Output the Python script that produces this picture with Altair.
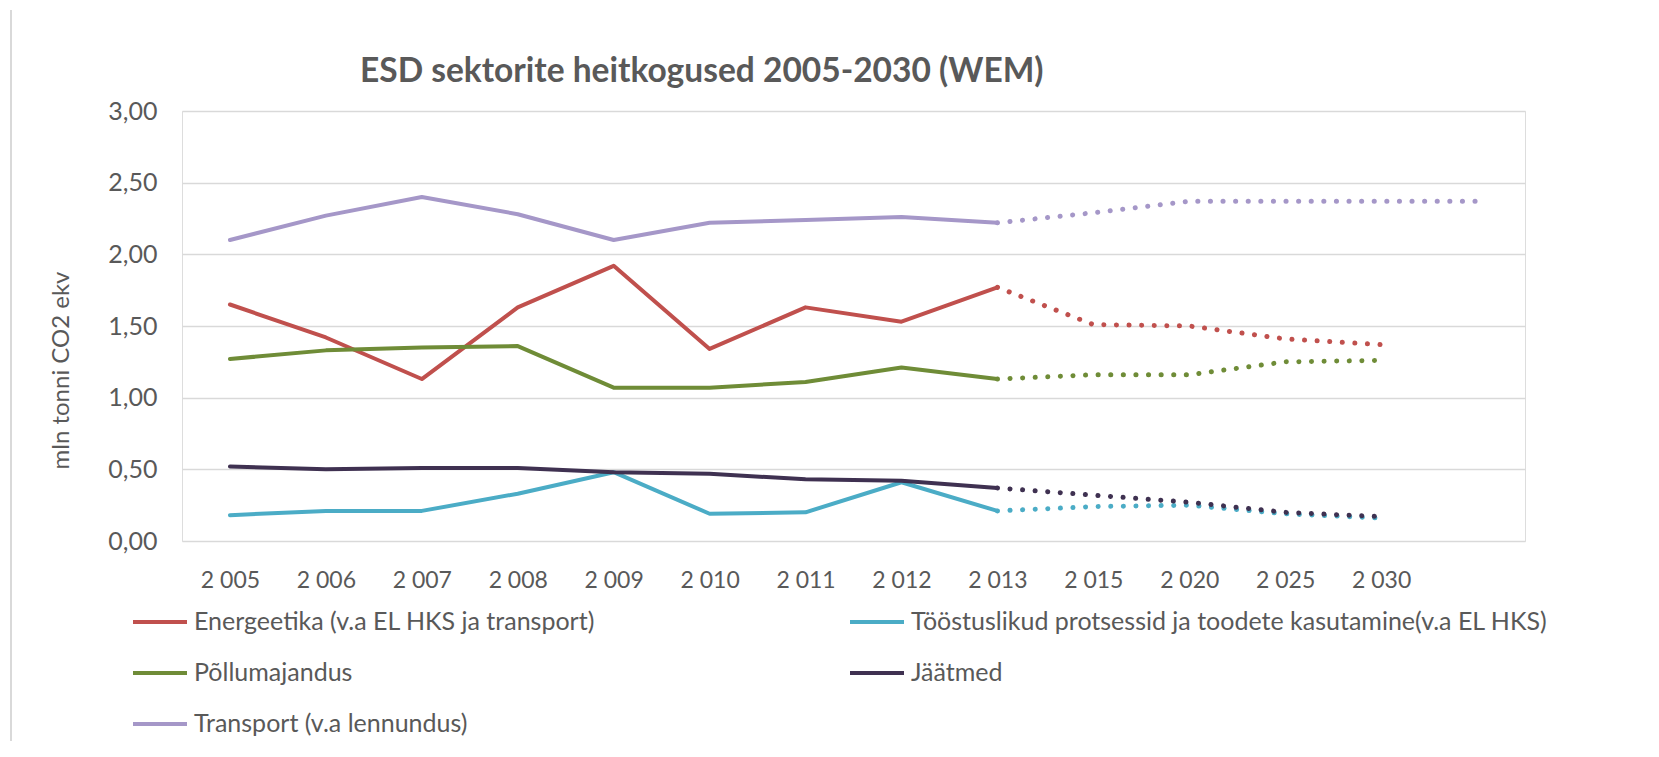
import altair as alt
import pandas as pd

# ---- data ----
categories = ["2 005", "2 006", "2 007", "2 008", "2 009", "2 010", "2 011",
              "2 012", "2 013", "2 015", "2 020", "2 025", "2 030", " "]

series_names = [
    "Energeetika (v.a EL HKS ja transport)",
    "Tööstuslikud protsessid ja toodete kasutamine(v.a EL HKS)",
    "Põllumajandus",
    "Jäätmed",
    "Transport (v.a lennundus)",
]
series_colors = ["#c0504d", "#4bacc6", "#6f8c37", "#3f3151", "#a597c8"]

energeetika = [1.65, 1.42, 1.13, 1.63, 1.92, 1.34, 1.63, 1.53, 1.77, 1.51, 1.50, 1.41, 1.37, None]
toostus = [0.18, 0.21, 0.21, 0.33, 0.48, 0.19, 0.20, 0.41, 0.21, 0.24, 0.25, 0.19, 0.16, None]
pollumajandus = [1.27, 1.33, 1.35, 1.36, 1.07, 1.07, 1.11, 1.21, 1.13, 1.16, 1.16, 1.25, 1.26, None]
jaatmed = [0.52, 0.50, 0.51, 0.51, 0.48, 0.47, 0.43, 0.42, 0.37, 0.32, 0.27, 0.20, 0.17, None]
transport = [2.10, 2.27, 2.40, 2.28, 2.10, 2.22, 2.24, 2.26, 2.22, 2.29, 2.37, 2.37, 2.37, 2.37]

last_hist = 8  # index of "2 013": solid up to here, dotted from here on

y_ticks = [0, 0.5, 1.0, 1.5, 2.0, 2.5, 3.0]

# legend fills column by column: order the domain so it reads row by row like the reference
legend_order = [series_names[i] for i in (0, 2, 4, 1, 3)]
color_of = dict(zip(series_names, series_colors))

rows = []
for name, vals in zip(series_names, [energeetika, toostus, pollumajandus, jaatmed, transport]):
    for i, (c, v) in enumerate(zip(categories, vals)):
        if v is None:
            continue
        if i <= last_hist:
            rows.append({"year": c, "value": v, "sector": name, "part": "hist", "order": i})
        if i >= last_hist:
            rows.append({"year": c, "value": v, "sector": name, "part": "proj", "order": i})
df = pd.DataFrame(rows)

FONT = "Lato"
TXT = "#595959"

x = alt.X(
    "year:O",
    scale=alt.Scale(type="point", domain=categories, padding=0.5),
    axis=alt.Axis(title=None, labelAngle=0, ticks=False, domain=False, grid=False,
                  labelPadding=39, labelBaseline="middle", labelFontSize=23,
                  labelColor=TXT, labelFont=FONT),
)
y = alt.Y(
    "value:Q",
    scale=alt.Scale(domain=[0, 3], nice=False),
    axis=alt.Axis(values=y_ticks, labelExpr="replace(format(datum.value, '.2f'), '.', ',')",
                  ticks=False, domain=False, grid=True, gridColor="#d9d9d9", gridWidth=1.3,
                  labelPadding=25, labelFontSize=25, labelColor=TXT, labelFont=FONT,
                  title="mln tonni CO2 ekv", titleFontSize=24, titleFont=FONT,
                  titleFontWeight="normal", titleColor=TXT, titleX=-121, titleY=259,
                  titleAngle=270, titleAlign="center", titleBaseline="middle"),
)
color = alt.Color(
    "sector:N",
    scale=alt.Scale(domain=legend_order, range=[color_of[n] for n in legend_order]),
    legend=alt.Legend(title=None, orient="none", legendX=-51, legendY=482, columns=2,
                      symbolType="stroke", symbolSize=2916, symbolStrokeWidth=4,
                      symbolDash=[1, 0], labelFontSize=25, labelFont=FONT, labelColor=TXT,
                      labelOffset=5, labelLimit=800, rowPadding=9, columnPadding=246),
)

solid = alt.Chart(df).transform_filter(alt.datum.part == "hist").mark_line(
    strokeWidth=4, strokeCap="round", strokeJoin="round"
).encode(x=x, y=y, color=color, order="order:Q")

dotted = alt.Chart(df).transform_filter(alt.datum.part == "proj").mark_line(
    strokeWidth=5, strokeCap="round", strokeDash=[0.1, 12.5]
).encode(x=x, y=y, color=color, order="order:Q")

frame = alt.Chart(alt.Data(values=[{}])).mark_rule(color="#d9d9d9", strokeWidth=2).encode(
    x=alt.value(-171), y=alt.value(-101), y2=alt.value(640)
)

chart = alt.layer(frame, solid, dotted).properties(
    width=1343,
    height=430,
    title=alt.TitleParams("ESD sektorite heitkogused 2005-2030 (WEM)", anchor="start",
                          frame="group", dx=178, dy=100, offset=20, fontSize=33.5, font=FONT,
                          fontWeight="bold", color=TXT),
    autosize=alt.AutoSizeParams(type="none"),
    padding={"left": 174, "top": 103, "right": 126, "bottom": 200},
).configure_view(stroke=None).configure(background="white")

chart.save("out.html", embed_options={"renderer": "svg", "actions": False})
